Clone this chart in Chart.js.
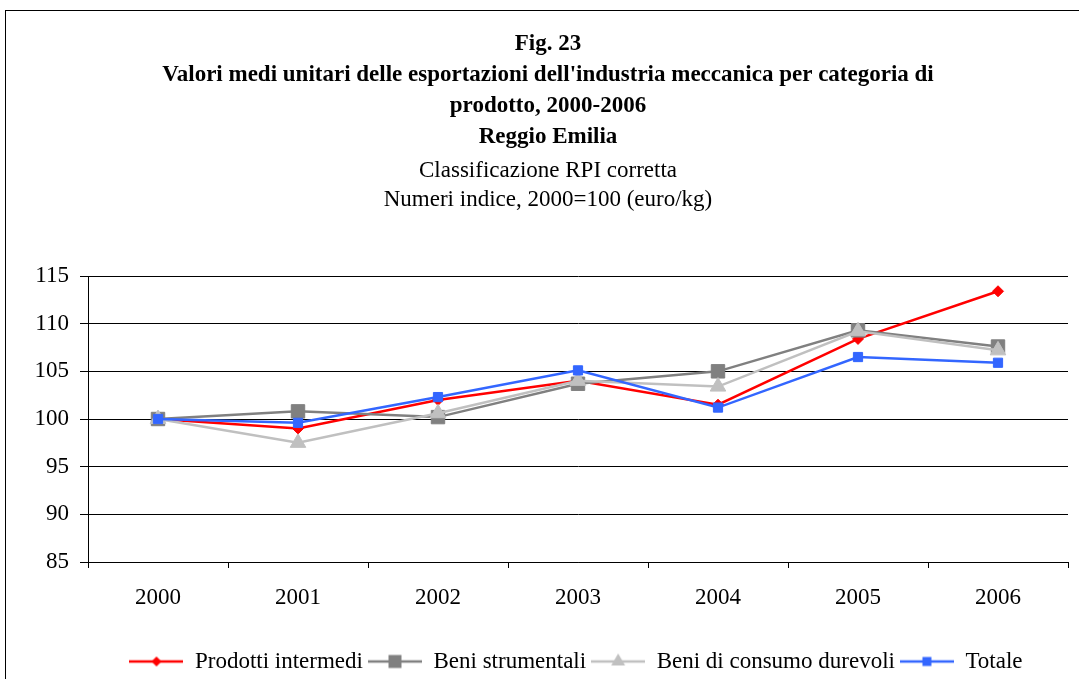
<!DOCTYPE html>
<html>
<head>
<meta charset="utf-8">
<script src="https://cdn.jsdelivr.net/npm/chart.js@4/dist/chart.umd.min.js"></script>
<style>
  html, body { margin: 0; padding: 0; background: #fff; overflow: hidden; }
  #frame { position: absolute; left: 5px; top: 10px; width: 1100px; height: 700px; border: 1px solid #000; }
  #chart { position: absolute; left: 0; top: 0; }
</style>
</head>
<body>
<div id="frame"></div>
<canvas id="chart" width="1079" height="679"></canvas>
<script>
// Fig. 23 - valori medi unitari, Reggio Emilia

const years = ['2000', '2001', '2002', '2003', '2004', '2005', '2006'];
const prodottiIntermedi = [100, 99.0, 102.0, 104.0, 101.5, 108.4, 113.4];
const beniStrumentali = [100, 100.8, 100.2, 103.7, 105.0, 109.3, 107.6];
const beniConsumoDurevoli = [100, 97.5, 100.6, 104.0, 103.4, 109.2, 107.2];
const totale = [100, 99.6, 102.3, 105.1, 101.2, 106.5, 105.9];
const yTicks = [85, 90, 95, 100, 105, 110, 115];

const FONT = '"Liberation Serif", "Times New Roman", serif';
const FS = 23;

// small legend icon: line with the marker in the middle
function legendIcon(color, shape, r) {
  const c = document.createElement('canvas');
  c.width = 54; c.height = 20;
  const g = c.getContext('2d');
  g.strokeStyle = color;
  g.fillStyle = color;
  g.lineWidth = 2.5;
  g.beginPath(); g.moveTo(0, 10); g.lineTo(54, 10); g.stroke();
  g.beginPath();
  if (shape === 'rect') {
    g.rect(27 - r, 10 - r, 2 * r, 2 * r);
  } else if (shape === 'rectRot') {
    g.moveTo(27, 10 - r); g.lineTo(27 + r, 10); g.lineTo(27, 10 + r); g.lineTo(27 - r, 10);
  } else {
    g.moveTo(27, 10 - r); g.lineTo(27 + r * 0.87, 10 + r * 0.5); g.lineTo(27 - r * 0.87, 10 + r * 0.5);
  }
  g.closePath();
  g.fill();
  return c;
}

const series = [
  { label: 'Prodotti intermedi', data: prodottiIntermedi, color: '#ff0000', style: 'rectRot', radius: 5.5, order: 4, icon: legendIcon('#ff0000', 'rectRot', 5) },
  { label: 'Beni strumentali', data: beniStrumentali, color: '#808080', style: 'rect', radius: 9.5, order: 3, icon: legendIcon('#808080', 'rect', 6.5) },
  { label: 'Beni di consumo durevoli', data: beniConsumoDurevoli, color: '#c0c0c0', style: 'triangle', radius: 9, order: 2, icon: legendIcon('#c0c0c0', 'triangle', 8) },
  { label: 'Totale', data: totale, color: '#3366ff', style: 'rect', radius: 6.5, order: 1, icon: legendIcon('#3366ff', 'rect', 4.5) }
];

// nudge the legend so it sits centred under the frame like the original
const legendShift = {
  id: 'legendShift',
  afterLayout(chart) {
    if (chart.legend) {
      chart.legend.left += 28;
      chart.legend.right += 28;
    }
  }
};

new Chart(document.getElementById('chart'), {
  type: 'line',
  data: {
    labels: years,
    datasets: series.map(s => ({
      label: s.label,
      data: s.data,
      borderColor: s.color,
      backgroundColor: s.color,
      borderWidth: 2.5,
      pointStyle: s.style,
      pointRadius: s.radius,
      pointBorderWidth: 1,
      pointBorderColor: s.color,
      pointBackgroundColor: s.color,
      tension: 0,
      order: s.order
    }))
  },
  options: {
    responsive: false,
    animation: false,
    layout: { padding: { left: 28, right: 11, top: 0, bottom: -4 } },
    font: { family: FONT },
    plugins: {
      title: {
        display: true,
        text: ['Fig. 23',
          "Valori medi unitari delle esportazioni dell'industria meccanica per categoria di",
          'prodotto, 2000-2006',
          'Reggio Emilia'],
        color: '#000',
        font: { family: FONT, size: FS, weight: 'bold', lineHeight: 31 / FS },
        padding: { top: 29, bottom: 3 }
      },
      subtitle: {
        display: true,
        text: ['Classificazione RPI corretta', 'Numeri indice, 2000=100 (euro/kg)'],
        color: '#000',
        font: { family: FONT, size: FS, weight: 'normal', lineHeight: 29 / FS },
        padding: { top: 0, bottom: 62 }
      },
      legend: {
        position: 'bottom',
        labels: {
          usePointStyle: true,
          pointStyleWidth: 54,
          padding: 5,
          color: '#000',
          font: { family: FONT, size: FS },
          generateLabels: chart => series.map((s, i) => ({
            text: s.label,
            pointStyle: s.icon,
            datasetIndex: i,
            fontColor: '#000',
            fillStyle: 'transparent',
            strokeStyle: 'transparent',
            lineWidth: 0,
            hidden: false
          }))
        }
      },
      tooltip: { enabled: false }
    },
    scales: {
      x: {
        offset: true,
        grid: { display: true, offset: true, drawOnChartArea: false, drawTicks: true, tickLength: 6, color: '#000' },
        border: { display: true, color: '#000' },
        ticks: { color: '#000', padding: 16, font: { family: FONT, size: FS } },
        afterFit: scale => { scale.height = 83; }
      },
      y: {
        min: 85,
        max: 115,
        afterBuildTicks: scale => { scale.ticks = yTicks.map(v => ({ value: v })); },
        grid: { color: '#000', lineWidth: 1, drawTicks: true, tickLength: 8 },
        border: { display: true, color: '#000' },
        ticks: { color: '#000', padding: 11, font: { family: FONT, size: FS } },
        afterFit: scale => { scale.width = 60; }
      }
    }
  },
  plugins: [legendShift]
});
</script>
</body>
</html>
